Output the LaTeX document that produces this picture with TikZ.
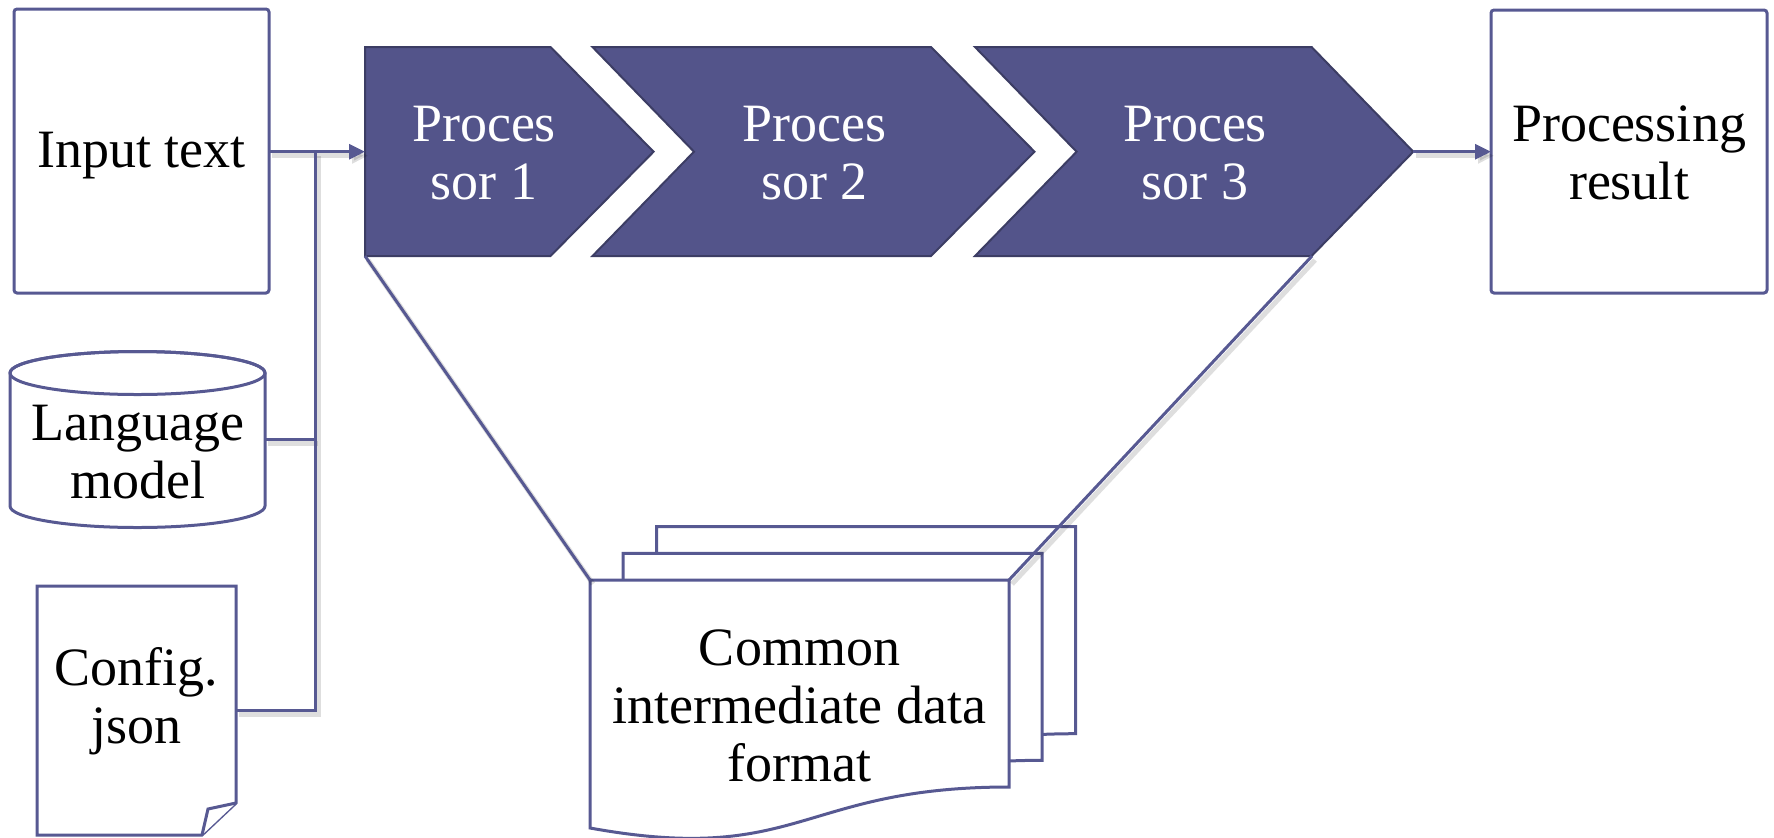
\documentclass[tikz,border=0pt]{standalone}
\usepackage{fontspec}
\setmainfont{Liberation Serif}
\usetikzlibrary{arrows.meta,fit,calc}
\definecolor{procfill}{RGB}{83,84,138}
\definecolor{procedge}{RGB}{60,61,100}
\definecolor{edgec}{RGB}{87,89,146}
\begin{document}
\begin{tikzpicture}[x=0.5pt,y=-0.5pt,
  lbl/.style={font=\fontsize{27}{29}\selectfont, align=center, text=black, inner sep=0pt},
  ptext/.style={lbl, text=white},
  box/.style={draw=edgec, line width=1.5pt, fill=white, inner sep=0pt, outer sep=0pt, rounded corners=1.5pt},
  area/.style={draw=none, inner sep=0pt, outer sep=0pt},
  shapeline/.style={draw=edgec, line width=1.5pt, fill=white, line join=miter},
  conn/.style={draw=edgec, line width=1.5pt,
    preaction={draw=black, opacity=0.13, line width=2.5pt, transform canvas={xshift=1.5pt,yshift=-2pt}}},
  arr/.style={conn, -{Triangle[length=8pt,width=7.5pt]}},
  chev/.style={fill=procfill, draw=procedge, line width=1pt, line join=miter}]
\useasboundingbox (0,0) rectangle (1774,837);

% ---------- left inputs ----------
\node[box, fit={(14,9) (269,293)}] (input) {};
\node[lbl] (inputtext) at (141.5,156) {Input text};

% language model cylinder
\path[shapeline] (10,373) -- (10,506)
  arc[start angle=180, end angle=360, x radius=63.75pt, y radius=10.75pt]
  -- (265,373)
  arc[start angle=0, end angle=180, x radius=63.75pt, y radius=10.75pt] -- cycle;
\draw[edgec, line width=1.5pt] (137.5,373) ellipse [x radius=63.75pt, y radius=10.75pt];
\node[area, fit={(10,352) (265,527)}] (lm) {};
\node[lbl] (lmtext) at (137.5,452) {Language\\model};

% config note
\path[shapeline] (37,586) -- (236,586) -- (236,803) -- (202,835) -- (37,835) -- cycle;
\path[shapeline] (236,803) -- (208,809) -- (202,835);
\node[area, fit={(37,586) (236,835)}] (cfg) {};
\node[lbl] (cfgtext) at (136.5,701) {Config.\\json};

% ---------- processors ----------
\path[chev] (365,47) -- (550.5,47) -- (653.6,151.7) -- (550.5,256) -- (365,256) -- cycle;
\path[chev] (592.5,47) -- (931,47) -- (1034.5,151.7) -- (931,256) -- (592.5,256) -- (694,151.7) -- cycle;
\path[chev] (975,47) -- (1311.6,47) -- (1413.3,151.7) -- (1311.6,256) -- (975,256) -- (1076.6,151.7) -- cycle;
\coordinate (p1w) at (365,151.7);
\coordinate (p1sw) at (365,256);
\coordinate (p3e) at (1413.3,151.7);
\coordinate (p3se) at (1312,256);
\node[ptext] (p1) at (484,153) {Proces\\sor 1};
\node[ptext] (p2) at (814.6,153) {Proces\\sor 2};
\node[ptext] (p3) at (1195,153) {Proces\\sor 3};

% ---------- result ----------
\node[box, fit={(1491,10) (1767,293)}] (result) {};
\node[lbl] (resulttext) at (1629,153) {Processing\\result};

% ---------- document stack ----------
\foreach \dx/\dy in {66.5/-53.3, 33/-26.7, 0/0} {
  \path[shapeline, shift={(\dx,\dy)}] (590,580) -- (1009,580) -- (1009,787)
    .. controls (800,787) and (800,866) .. (590,828) -- cycle;
}
\node[area, fit={(590,580) (1009,828)}] (doc) {};
\node[lbl] (doctext) at (799.5,706) {Common\\intermediate data\\format};

% ---------- connectors ----------
\coordinate (bus) at (315,151.7);
\draw[arr] (input.east |- p1w) -- (p1w);
\draw[conn] (lm.east) -- (lm.east -| bus);
\draw[conn] (cfg.east) -| (bus);
\draw[arr] (p3e) -- (result.west |- p3e);
\draw[conn] (p1sw) -- (doc.north west);
\draw[conn] (p3se) -- (doc.north east);
\end{tikzpicture}
\end{document}
